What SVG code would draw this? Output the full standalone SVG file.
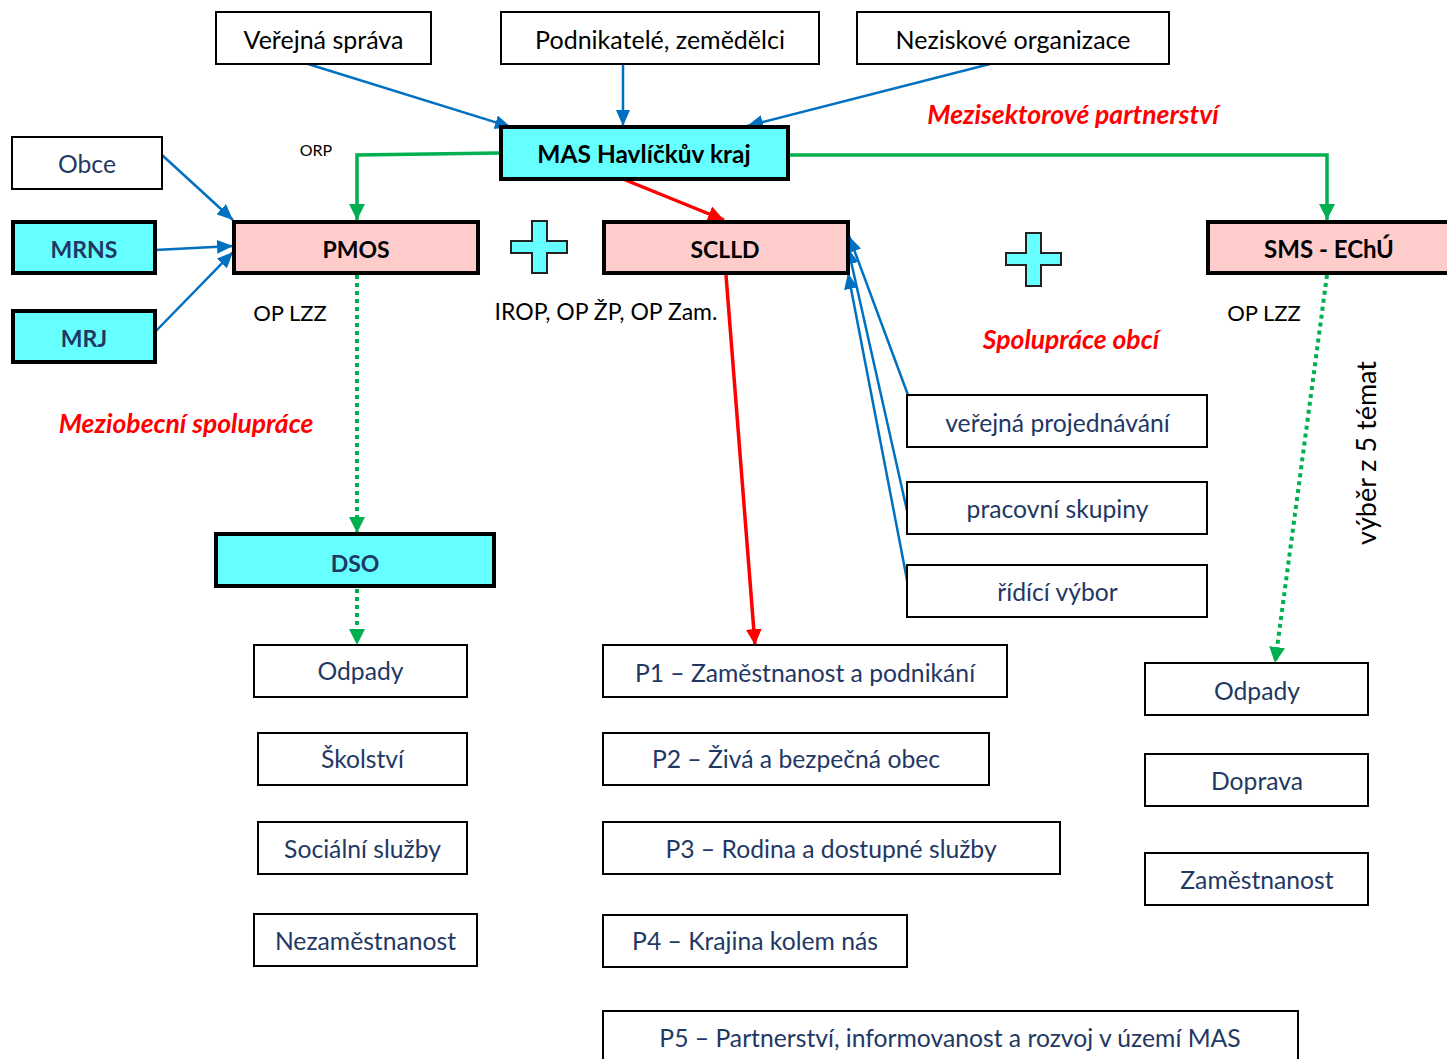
<svg xmlns="http://www.w3.org/2000/svg" width="1447" height="1059" viewBox="0 0 1447 1059">
<defs>
<style>
.bx{fill:#fff;stroke:#000;stroke-width:2}
.cy{fill:#66FFFF;stroke:#000;stroke-width:4}
.pk{fill:#FFCCCC;stroke:#000;stroke-width:4}
.pl{fill:#66FFFF;stroke:#222;stroke-width:2}
text{font-family:Lato,"Noto Sans",sans-serif}
.t{font-size:25px;fill:#000;text-anchor:middle}
.n{font-size:24.7px;fill:#1F3864;text-anchor:middle}
.b{font-size:23px;font-weight:bold;fill:#000;text-anchor:middle}
.bn{font-size:23px;font-weight:bold;fill:#1F3864;text-anchor:middle}
.lb{font-size:23px;fill:#000;text-anchor:middle}
.rd{font-size:26.5px;font-weight:bold;font-style:italic;fill:#FF0000;text-anchor:middle}
.ab{stroke:#0070C0;stroke-width:2.5;fill:none}
.ag{stroke:#00B050;stroke-width:3.5;fill:none}
.ad{stroke:#00B050;stroke-width:4;fill:none;stroke-dasharray:4,4}
.ar{stroke:#FF0000;stroke-width:3.5;fill:none}
</style>
<marker id="mb" markerUnits="userSpaceOnUse" markerWidth="16" markerHeight="14" refX="16" refY="7" orient="auto"><path d="M0,0 L16,7 L0,14 z" fill="#0070C0"/></marker>
<marker id="mg" markerUnits="userSpaceOnUse" markerWidth="16" markerHeight="16" refX="16" refY="8" orient="auto"><path d="M0,0 L16,8 L0,16 z" fill="#00B050"/></marker>
<marker id="mr" markerUnits="userSpaceOnUse" markerWidth="16" markerHeight="16" refX="16" refY="8" orient="auto"><path d="M0,0 L16,8 L0,16 z" fill="#FF0000"/></marker>
</defs>
<rect width="1447" height="1059" fill="#fff"/>

<g id="connectors">
<line class="ab" x1="308" y1="64" x2="511" y2="127" marker-end="url(#mb)"/>
<line class="ab" x1="623" y1="64" x2="623" y2="126" marker-end="url(#mb)"/>
<line class="ab" x1="990" y1="64" x2="747" y2="126" marker-end="url(#mb)"/>
<line class="ab" x1="162" y1="155" x2="233" y2="220" marker-end="url(#mb)"/>
<line class="ab" x1="155" y1="250" x2="233" y2="246" marker-end="url(#mb)"/>
<line class="ab" x1="155" y1="332" x2="233" y2="252" marker-end="url(#mb)"/>
<line class="ab" x1="908" y1="395" x2="849" y2="236" marker-end="url(#mb)"/>
<line class="ab" x1="908" y1="515" x2="848" y2="248" marker-end="url(#mb)"/>
<line class="ab" x1="908" y1="585" x2="848" y2="273" marker-end="url(#mb)"/>
<polyline class="ag" points="500,153 357,155 357,220" marker-end="url(#mg)"/>
<polyline class="ag" points="788,155 1327,155 1327,220" marker-end="url(#mg)"/>
<line class="ad" x1="357" y1="275" x2="357" y2="533" marker-end="url(#mg)"/>
<line class="ad" x1="357" y1="589" x2="357" y2="645" marker-end="url(#mg)"/>
<line class="ad" x1="1327" y1="275" x2="1275" y2="663" marker-end="url(#mg)"/>
<line class="ar" x1="623" y1="179" x2="724" y2="220" marker-end="url(#mr)"/>
<line class="ar" x1="726" y1="275" x2="755" y2="645" marker-end="url(#mr)"/>
</g>

<g id="verejna-sprava"><rect class="bx" x="216" y="12" width="215" height="52"/><text class="t" x="323.5" y="49">Veřejná správa</text></g>
<g id="podnikatele"><rect class="bx" x="501" y="12" width="318" height="52"/><text class="t" x="660" y="49">Podnikatelé, zemědělci</text></g>
<g id="neziskove"><rect class="bx" x="857" y="12" width="312" height="52"/><text class="t" x="1013" y="49">Neziskové organizace</text></g>
<g id="mas"><rect class="cy" x="501" y="127" width="287" height="52"/><text class="b" x="644" y="163" style="font-size:24.5px">MAS Havlíčkův kraj</text></g>
<g id="obce"><rect class="bx" x="12" y="137" width="150" height="52"/><text class="n" x="87" y="173">Obce</text></g>
<g id="mrns"><rect class="cy" x="13" y="222" width="142" height="51"/><text class="bn" x="84" y="258">MRNS</text></g>
<g id="mrj"><rect class="cy" x="13" y="311" width="142" height="51"/><text class="bn" x="84" y="347">MRJ</text></g>
<g id="pmos"><rect class="pk" x="234" y="222" width="244" height="51"/><text class="b" x="356" y="258">PMOS</text></g>
<g id="sclld"><rect class="pk" x="604" y="222" width="244" height="51"/><text class="b" x="725" y="258">SCLLD</text></g>
<g id="sms"><rect class="pk" x="1208" y="222" width="244" height="51"/><text class="b" x="1329" y="258" style="font-size:24px">SMS - EChÚ</text></g>

<g id="plus1"><path class="pl" d="M532,221 H547 V241 H567 V253 H547 V273 H532 V253 H511 V241 H532 Z"/></g>
<g id="plus2"><path class="pl" d="M1026,233 H1041 V253 H1061 V265 H1041 V286 H1026 V265 H1006 V253 H1026 Z"/></g>

<g id="labels">
<text class="lb" x="316" y="156" style="font-size:16px">ORP</text>
<text class="lb" x="290" y="321" style="font-size:22px">OP LZZ</text>
<text class="lb" x="606" y="320">IROP, OP ŽP, OP Zam.</text>
<text class="lb" x="1264" y="321" style="font-size:22px">OP LZZ</text>
<text class="rd" x="1073" y="124">Mezisektorové partnerství</text>
<text class="rd" x="1071" y="349">Spolupráce obcí</text>
<text class="rd" x="186" y="433">Meziobecní spolupráce</text>
<text class="lb" transform="translate(1376,453) rotate(-90)" style="font-size:27px">výběr z 5 témat</text>
</g>

<g id="dso"><rect class="cy" x="216" y="534" width="278" height="52"/><text class="bn" x="355" y="572">DSO</text></g>
<g id="odpady-l"><rect class="bx" x="254" y="645" width="213" height="52"/><text class="n" x="360.5" y="680">Odpady</text></g>
<g id="skolstvi"><rect class="bx" x="258" y="733" width="209" height="52"/><text class="n" x="362.5" y="768">Školství</text></g>
<g id="socialni"><rect class="bx" x="258" y="822" width="209" height="52"/><text class="n" x="362.5" y="858">Sociální služby</text></g>
<g id="nezamestnanost"><rect class="bx" x="254" y="914" width="223" height="52"/><text class="n" x="365.5" y="950">Nezaměstnanost</text></g>

<g id="p1"><rect class="bx" x="603" y="645" width="404" height="52"/><text class="n" x="805" y="682">P1 – Zaměstnanost a podnikání</text></g>
<g id="p2"><rect class="bx" x="603" y="733" width="386" height="52"/><text class="n" x="796" y="768">P2 – Živá a bezpečná obec</text></g>
<g id="p3"><rect class="bx" x="603" y="822" width="457" height="52"/><text class="n" x="831" y="858">P3 – Rodina a dostupné služby</text></g>
<g id="p4"><rect class="bx" x="603" y="915" width="304" height="52"/><text class="n" x="755" y="950">P4 – Krajina kolem nás</text></g>
<g id="p5"><rect class="bx" x="603" y="1011" width="695" height="60"/><text class="n" x="950" y="1047">P5 – Partnerství, informovanost a rozvoj v území MAS</text></g>

<g id="verejna-projednavani"><rect class="bx" x="907" y="395" width="300" height="52"/><text class="n" x="1057.5" y="432">veřejná projednávání</text></g>
<g id="pracovni-skupiny"><rect class="bx" x="907" y="482" width="300" height="52"/><text class="n" x="1057.5" y="518">pracovní skupiny</text></g>
<g id="ridici-vybor"><rect class="bx" x="907" y="565" width="300" height="52"/><text class="n" x="1057.5" y="601">řídící výbor</text></g>

<g id="odpady-r"><rect class="bx" x="1145" y="663" width="223" height="52"/><text class="n" x="1257" y="700">Odpady</text></g>
<g id="doprava"><rect class="bx" x="1145" y="754" width="223" height="52"/><text class="n" x="1257" y="790">Doprava</text></g>
<g id="zamestnanost"><rect class="bx" x="1145" y="853" width="223" height="52"/><text class="n" x="1257" y="889">Zaměstnanost</text></g>
</svg>
